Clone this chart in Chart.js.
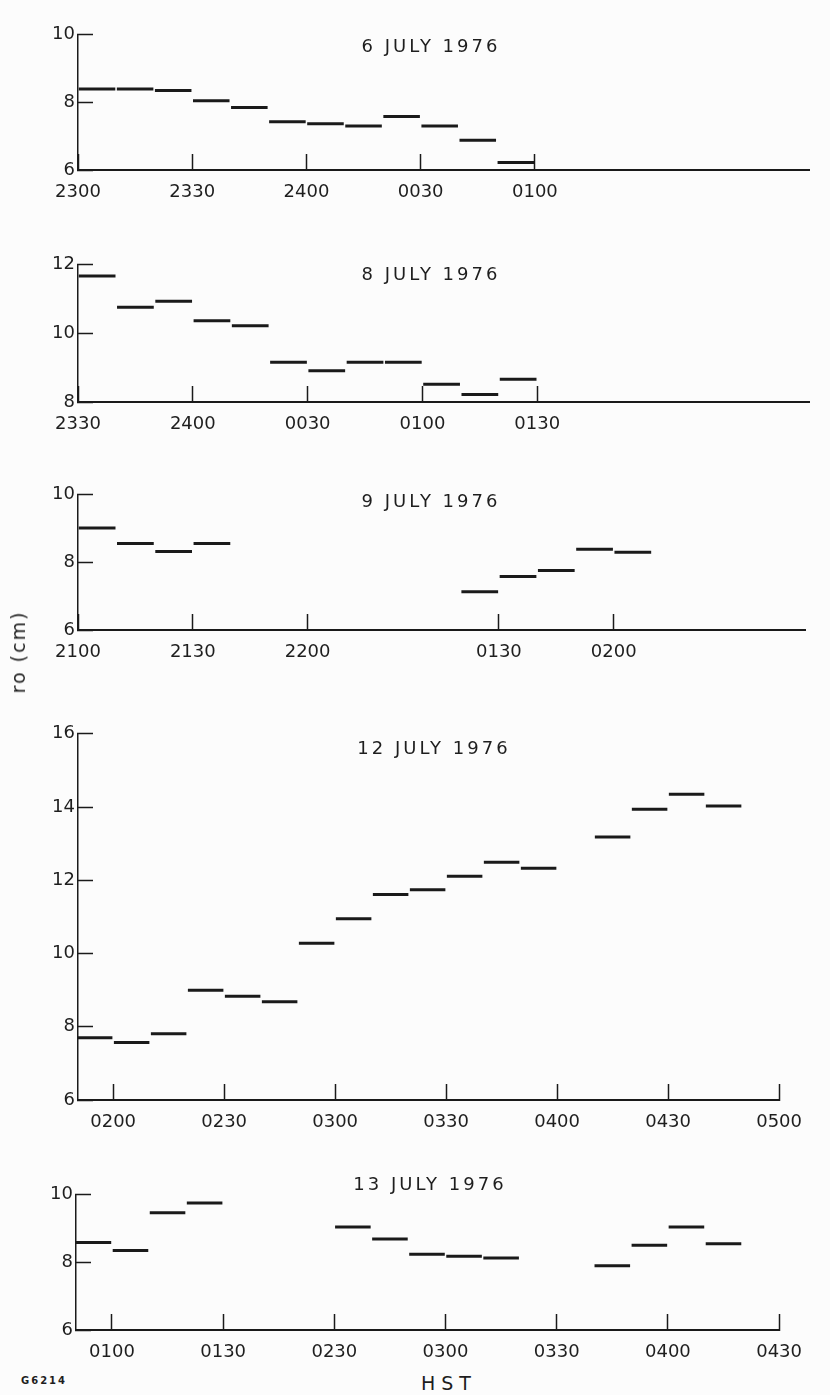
<!DOCTYPE html>
<html>
<head>
<meta charset="utf-8">
<script src="https://cdn.jsdelivr.net/npm/chart.js@4.4.1/dist/chart.umd.min.js"></script>
<style>
    body { margin: 0; background: #fcfcfc; }
    #page { position: relative; width: 830px; height: 1395px; overflow: hidden; }
    canvas { position: absolute; left: 0; }
    .label {
        position: absolute;
        font-family: "DejaVu Sans", sans-serif;
        color: #1e1e1e;
        white-space: nowrap;
        transform: translate(-50%, -50%);
    }
    .title { font-size: 18px; letter-spacing: 3px; }
</style>
</head>
<body>
<div id="page">
    <canvas id="july6"></canvas>
    <canvas id="july8"></canvas>
    <canvas id="july9"></canvas>
    <canvas id="july12"></canvas>
    <canvas id="july13"></canvas>

    <div class="label title" style="left:431px; top:45px;">6 JULY 1976</div>
    <div class="label title" style="left:431px; top:273px;">8 JULY 1976</div>
    <div class="label title" style="left:431px; top:500px;">9 JULY 1976</div>
    <div class="label title" style="left:434px; top:747px;">12 JULY 1976</div>
    <div class="label title" style="left:430px; top:1183px;">13 JULY 1976</div>

    <div class="label" style="left:18px; top:652px; font-size:19px; letter-spacing:2px; transform:translate(-50%,-50%) rotate(-90deg);">ro (cm)</div>
    <div class="label" style="left:449px; top:1383px; font-size:19px; letter-spacing:6px;">HST</div>
    <div class="label" style="left:44px; top:1380px; font-size:10px; letter-spacing:2px; font-weight:bold;">G6214</div>
</div>
<script>
// each reading covers a 10 minute interval; x = minutes on the (broken) time axis
const SEGMENT_MINUTES = 10;
const INK = "#1a1a1a";
const PAD_TOP = 12;
const AXIS_HEIGHT = 40;

// 6 July 1976, from 2300
const july6Start = [0, 10, 20, 30, 40, 50, 60, 70, 80, 90, 100, 110];
const july6Ro = [8.40, 8.40, 8.35, 8.05, 7.85, 7.43, 7.37, 7.30, 7.58, 7.30, 6.88, 6.22];
const july6TickPos = [0, 30, 60, 90, 120];
const july6TickLabels = ["2300", "2330", "2400", "0030", "0100"];

// 8 July 1976, from 2330
const july8Start = [0, 10, 20, 30, 40, 50, 60, 70, 80, 90, 100, 110];
const july8Ro = [11.67, 10.76, 10.94, 10.37, 10.22, 9.16, 8.91, 9.16, 9.16, 8.52, 8.22, 8.66];
const july8TickPos = [0, 30, 60, 90, 120];
const july8TickLabels = ["2330", "2400", "0030", "0100", "0130"];

// 9 July 1976, 2100 - 2200 then break to 0130
const july9Start = [0, 10, 20, 30, 100, 110, 120, 130, 140];
const july9Ro = [9.02, 8.56, 8.32, 8.56, 7.13, 7.58, 7.76, 8.39, 8.30];
const july9TickPos = [0, 30, 60, 110, 140];
const july9TickLabels = ["2100", "2130", "2200", "0130", "0200"];

// 12 July 1976, 0 = 0200
const july12Start = [-10, 0, 10, 20, 30, 40, 50, 60, 70, 80, 90, 100, 110, 130, 140, 150, 160];
const july12Ro = [7.70, 7.57, 7.81, 9.00, 8.83, 8.68, 10.28, 10.95, 11.61, 11.74, 12.11, 12.49, 12.33, 13.18, 13.94, 14.35, 14.03];
const july12TickPos = [0, 30, 60, 90, 120, 150, 180];
const july12TickLabels = ["0200", "0230", "0300", "0330", "0400", "0430", "0500"];

// 13 July 1976, 0 = 0100, break between 0130 and 0230
const july13Start = [-10, 0, 10, 20, 60, 70, 80, 90, 100, 130, 140, 150, 160];
const july13Ro = [8.59, 8.35, 9.47, 9.76, 9.05, 8.69, 8.24, 8.18, 8.13, 7.90, 8.51, 9.05, 8.55];
const july13TickPos = [0, 30, 60, 90, 120, 150, 180];
const july13TickLabels = ["0100", "0130", "0230", "0300", "0330", "0400", "0430"];

Chart.defaults.font.family = "'DejaVu Sans', sans-serif";
Chart.defaults.font.size = 18;
Chart.defaults.color = "#1e1e1e";

function segmentPoints(starts, values) {
    const points = [];
    starts.forEach((start, i) => {
        points.push({ x: start + 0.2, y: values[i] });
        points.push({ x: start + SEGMENT_MINUTES - 0.2, y: values[i] });
        points.push({ x: start + SEGMENT_MINUTES, y: null });
    });
    return points;
}

function drawPanel(id, panel) {
    const canvas = document.getElementById(id);
    canvas.width = 830;
    canvas.height = PAD_TOP + (panel.bottom - panel.top) + AXIS_HEIGHT;
    canvas.style.top = (panel.top - PAD_TOP) + "px";

    new Chart(canvas, {
        type: "line",
        data: {
            datasets: [{
                data: segmentPoints(panel.starts, panel.values),
                borderColor: INK,
                borderWidth: 3,
                pointRadius: 0,
                spanGaps: false,
                clip: 0
            }]
        },
        options: {
            responsive: false,
            animation: false,
            layout: {
                padding: { top: PAD_TOP, right: 830 - panel.right, left: 0, bottom: 0 }
            },
            plugins: {
                legend: { display: false },
                tooltip: { enabled: false }
            },
            scales: {
                x: {
                    type: "linear",
                    min: panel.xMin,
                    max: panel.xMax,
                    afterBuildTicks: scale => {
                        scale.ticks = panel.tickPos.map(v => ({ value: v }));
                    },
                    afterFit: scale => { scale.height = AXIS_HEIGHT; },
                    ticks: {
                        autoSkip: false,
                        maxRotation: 0,
                        padding: 28,
                        callback: (value, index) => panel.tickLabels[index]
                    },
                    grid: { drawOnChartArea: false, tickLength: -16, tickWidth: 1.5, color: INK },
                    border: { color: INK, width: 2 }
                },
                y: {
                    min: panel.yMin,
                    max: panel.yMax,
                    afterFit: scale => { scale.width = panel.left; },
                    ticks: { stepSize: 2, padding: 18 },
                    grid: { drawOnChartArea: false, tickLength: -15, tickWidth: 1.5, color: INK },
                    border: { color: INK, width: 1.5 }
                }
            }
        }
    });
}

window.onload = () => {
    drawPanel("july6", {
        starts: july6Start, values: july6Ro, tickPos: july6TickPos, tickLabels: july6TickLabels,
        xMin: 0, xMax: 192, yMin: 6, yMax: 10, left: 78, right: 809, top: 18, bottom: 170
    });
    drawPanel("july8", {
        starts: july8Start, values: july8Ro, tickPos: july8TickPos, tickLabels: july8TickLabels,
        xMin: 0, xMax: 191, yMin: 8, yMax: 12, left: 78, right: 809, top: 248, bottom: 402
    });
    drawPanel("july9", {
        starts: july9Start, values: july9Ro, tickPos: july9TickPos, tickLabels: july9TickLabels,
        xMin: 0, xMax: 190, yMin: 6, yMax: 10, left: 78, right: 805, top: 478, bottom: 630
    });
    drawPanel("july12", {
        starts: july12Start, values: july12Ro, tickPos: july12TickPos, tickLabels: july12TickLabels,
        xMin: -9.5, xMax: 180, yMin: 6, yMax: 16, left: 78, right: 804, top: 717, bottom: 1100
    });
    drawPanel("july13", {
        starts: july13Start, values: july13Ro, tickPos: july13TickPos, tickLabels: july13TickLabels,
        xMin: -9.7, xMax: 180, yMin: 6, yMax: 10, left: 76, right: 802, top: 1178, bottom: 1330
    });
};
</script>
</body>
</html>
